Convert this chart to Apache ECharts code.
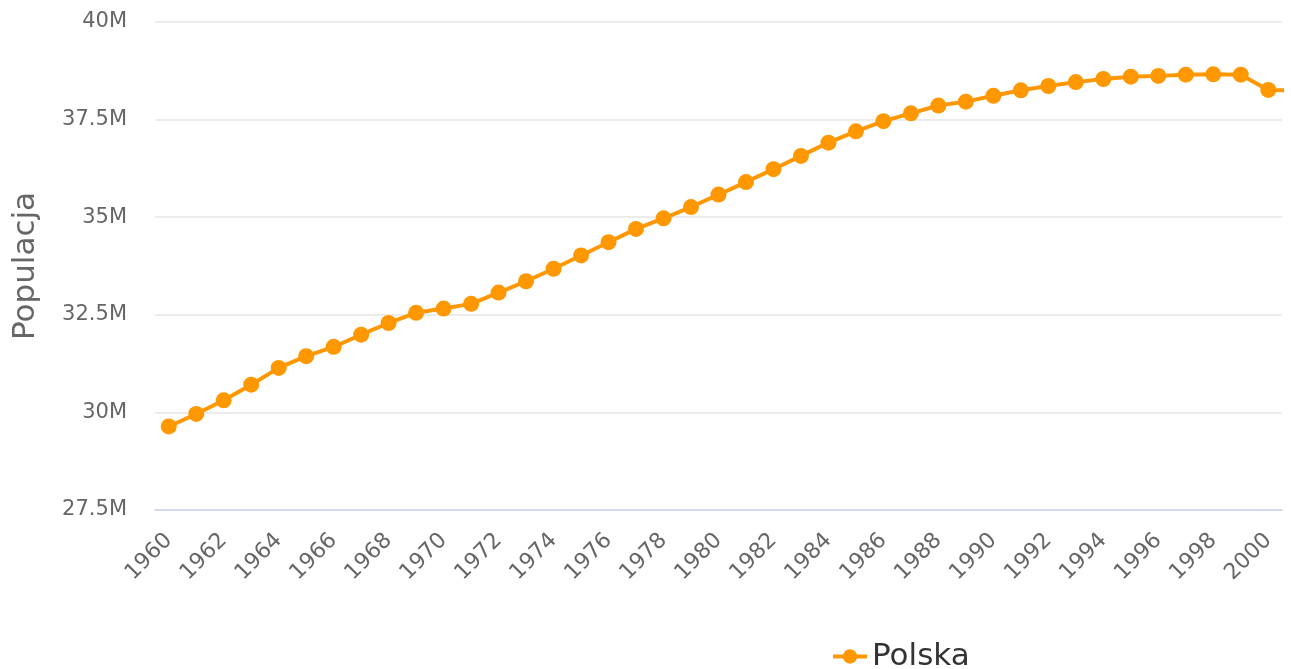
<!DOCTYPE html>
<html>
<head>
<meta charset="utf-8">
<title>Populacja - Polska</title>
<script src="https://cdn.jsdelivr.net/npm/echarts@6/dist/echarts.min.js"></script>
<style>
  html, body { margin: 0; padding: 0; background: #fff; overflow: hidden; }
  #chart { width: 1291px; height: 669px; }
</style>
</head>
<body>
<div id="chart"></div>
<script>
// lata na osi X (2001 tylko częściowo widoczny przy prawej krawędzi)
const years = ['1960', '1961', '1962', '1963', '1964', '1965', '1966', '1967', '1968', '1969',
  '1970', '1971', '1972', '1973', '1974', '1975', '1976', '1977', '1978', '1979',
  '1980', '1981', '1982', '1983', '1984', '1985', '1986', '1987', '1988', '1989',
  '1990', '1991', '1992', '1993', '1994', '1995', '1996', '1997', '1998', '1999',
  '2000', '2001']

// populacja Polski (mln)
const polska = [29.64, 29.96, 30.31, 30.71, 31.14, 31.44, 31.68, 31.99, 32.29, 32.55,
  32.66, 32.78, 33.07, 33.36, 33.68, 34.02, 34.36, 34.70, 34.97, 35.26,
  35.58, 35.90, 36.23, 36.57, 36.91, 37.20, 37.46, 37.66, 37.86, 37.96,
  38.11, 38.25, 38.36, 38.46, 38.54, 38.60, 38.62, 38.65, 38.66, 38.65,
  38.26, 38.25]

const yTicks = [27.5, 30, 32.5, 35, 37.5, 40]

const font = 'DejaVu Sans'
const chart = echarts.init(document.getElementById('chart'))

chart.setOption({
  animation: false,
  textStyle: { fontFamily: font },
  grid: { left: 155, right: 9, top: 22, bottom: 159 },
  legend: {
    left: 826,
    top: 636,
    itemWidth: 34,
    itemHeight: 18,
    itemGap: 10,
    lineStyle: { width: 4 },
    textStyle: { fontFamily: font, fontSize: 31, color: '#333' },
    data: ['Polska']
  },
  xAxis: {
    type: 'category',
    data: years,
    boundaryGap: true,
    max: 40,
    axisLine: { lineStyle: { color: '#ccd6eb', width: 1.5 } },
    axisTick: { show: false },
    axisLabel: {
      interval: 1,
      rotate: 45,
      margin: 27,
      fontSize: 22,
      color: '#666',
      fontFamily: font
    }
  },
  yAxis: {
    type: 'value',
    min: yTicks[0],
    max: yTicks[yTicks.length - 1],
    interval: 2.5,
    name: 'Populacja',
    nameLocation: 'middle',
    nameGap: 114,
    nameTextStyle: { fontSize: 31, color: '#666', fontFamily: font },
    axisLine: { show: false },
    axisTick: { show: false },
    splitLine: { lineStyle: { color: '#e6e6e6', width: 1.5 } },
    axisLabel: {
      margin: 28,
      fontSize: 21,
      color: '#666',
      fontFamily: font,
      formatter: v => v + 'M'
    }
  },
  series: [{
    name: 'Polska',
    type: 'line',
    data: polska,
    clip: true,
    symbol: 'circle',
    symbolSize: 16,
    showAllSymbol: true,
    itemStyle: { color: '#ff9800' },
    lineStyle: { color: '#ff9800', width: 4 }
  }]
})

window.addEventListener('resize', () => chart.resize())
</script>
</body>
</html>
